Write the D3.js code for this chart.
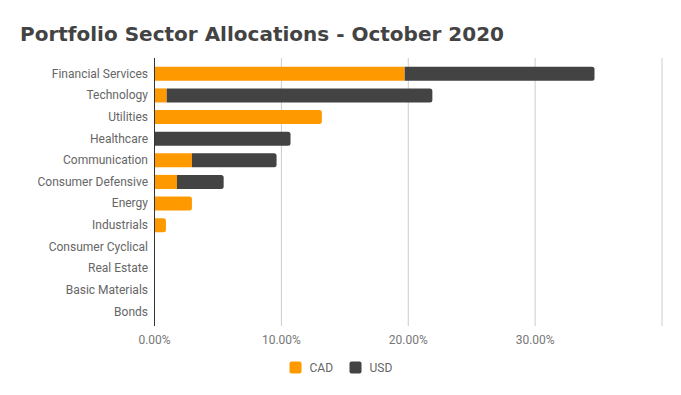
<!DOCTYPE html>
<html>
<head>
<meta charset="utf-8">
<script src="https://cdn.jsdelivr.net/npm/d3@7"></script>
<style>
  body { margin: 0; background: #fff; }
  svg { display: block; font-family: Roboto, sans-serif; }
</style>
</head>
<body>
<div id="chart"></div>
<script>
// data
const sectors = [
  "Financial Services",
  "Technology",
  "Utilities",
  "Healthcare",
  "Communication",
  "Consumer Defensive",
  "Energy",
  "Industrials",
  "Consumer Cyclical",
  "Real Estate",
  "Basic Materials",
  "Bonds",
];
const cadValues = [19.76, 1.0, 13.23, 0, 2.99, 1.81, 2.99, 0.94, 0, 0, 0, 0];
const usdValues = [14.96, 20.94, 0, 10.76, 6.67, 3.68, 0, 0, 0, 0, 0, 0];
const seriesNames = ["CAD", "USD"];
const tickValues = [0, 10, 20, 30, 40];
const tickLabels = ["0.00%", "10.00%", "20.00%", "30.00%", ""];

const colors = { CAD: "#ff9900", USD: "#434343" };

// canvas size
const width = 681;
const height = 395;

const svg = d3
  .select("#chart")
  .append("svg")
  .attr("width", width)
  .attr("height", height);

// title
svg
  .append("text")
  .attr("x", 20)
  .attr("y", 41)
  .style("font-family", "'DejaVu Sans', Verdana, sans-serif")
  .style("font-weight", "bold")
  .style("font-size", "20px")
  .style("fill", "#434343")
  .text("Portfolio Sector Allocations - October 2020");

// scales
const xScale = d3.scaleLinear().domain([0, 40]).range([154, 661.5]);

const yScale = d3
  .scaleBand()
  .domain(sectors)
  .range([63, 322.5])
  .paddingInner(0.35)
  .paddingOuter(0.175);

// gridlines
svg
  .append("g")
  .selectAll("line")
  .data(tickValues.slice(1))
  .enter()
  .append("line")
  .attr("x1", (d) => xScale(d) + 0.5)
  .attr("x2", (d) => xScale(d) + 0.5)
  .attr("y1", 58)
  .attr("y2", 326)
  .style("stroke", "#cccccc")
  .style("stroke-width", 1);

// stack data
const table = sectors.map((s, i) => ({
  sector: s,
  CAD: cadValues[i],
  USD: usdValues[i],
}));
const stacked = d3.stack().keys(seriesNames)(table);

// bars (rounded ends, square where the next segment starts)
function barPath(x0, x1, y, h, roundRight) {
  const r = Math.min(2.5, (x1 - x0) / 2);
  if (!roundRight || r <= 0) {
    return `M${x0},${y}H${x1}V${y + h}H${x0}Z`;
  }
  return (
    `M${x0},${y}H${x1 - r}` +
    `Q${x1},${y} ${x1},${y + r}` +
    `V${y + h - r}` +
    `Q${x1},${y + h} ${x1 - r},${y + h}` +
    `H${x0}Z`
  );
}

stacked.forEach((layer, li) => {
  svg
    .append("g")
    .selectAll("path")
    .data(layer.filter((d) => d[1] > d[0]))
    .enter()
    .append("path")
    .attr("d", (d) => {
      const isLast = li === stacked.length - 1 || d.data.USD === 0;
      return barPath(
        xScale(d[0]),
        xScale(d[1]),
        yScale(d.data.sector),
        yScale.bandwidth(),
        isLast
      );
    })
    .style("fill", colors[layer.key]);
});

// zero axis line
svg
  .append("line")
  .attr("x1", xScale(0) + 0.5)
  .attr("x2", xScale(0) + 0.5)
  .attr("y1", 58)
  .attr("y2", 326)
  .style("stroke", "#333333")
  .style("stroke-width", 1);

// y axis labels
const yAxis = d3.axisLeft(yScale).tickSize(0).tickPadding(6);
svg
  .append("g")
  .attr("transform", "translate(" + xScale(0) + ",0)")
  .call(yAxis)
  .call((g) => g.select(".domain").remove())
  .selectAll("text")
  .style("font-family", "Roboto, sans-serif")
  .style("font-size", "12px")
  .style("fill", "#666666");

// x axis labels
const xAxis = d3
  .axisBottom(xScale)
  .tickValues(tickValues)
  .tickSize(0)
  .tickPadding(0)
  .tickFormat((d, i) => tickLabels[i]);
svg
  .append("g")
  .attr("transform", "translate(0,335)")
  .call(xAxis)
  .call((g) => g.select(".domain").remove())
  .selectAll("text")
  .style("font-family", "Roboto, sans-serif")
  .style("font-size", "12px")
  .style("fill", "#777777");

// legend
const legendX = [289.5, 349.5];
const legend = svg
  .append("g")
  .selectAll("g")
  .data(seriesNames)
  .enter()
  .append("g")
  .attr("transform", (d, i) => "translate(" + legendX[i] + ",361.5)");

legend
  .append("rect")
  .attr("width", 12)
  .attr("height", 12)
  .attr("rx", 2)
  .style("fill", (d) => colors[d]);

legend
  .append("text")
  .attr("x", 20)
  .attr("y", 10.5)
  .style("font-family", "Roboto, sans-serif")
  .style("font-size", "12px")
  .style("fill", "#666666")
  .text((d) => d);
</script>
</body>
</html>
